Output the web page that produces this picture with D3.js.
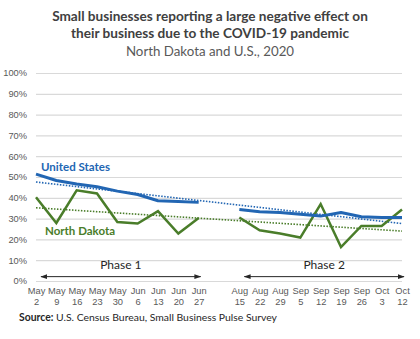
<!DOCTYPE html>
<html>
<head>
<meta charset="utf-8">
<script src="https://cdn.jsdelivr.net/npm/d3@7"></script>
<style>
  body { margin: 0; background: #fff; }
  svg { font-family: Lato, "Liberation Sans", sans-serif; }
</style>
</head>
<body>
<div id="vis"></div>
<script>
// Data (blank entry = gap between phases)
const MONTHS = ["May","May","May","May","May","Jun","Jun","Jun","Jun","",
                "Aug","Aug","Aug","Sep","Sep","Sep","Sep","Oct","Oct"];
const DAYS = ["2","9","16","23","30","6","13","20","27","",
              "15","22","29","5","12","19","26","3","12"];
const US_VALUES = [51.4, 48.3, 46.6, 45.3, 43.2, 41.6, 38.6, 38.2, 37.8, null,
                   34.4, 33.3, 32.9, 32.1, 31.2, 32.9, 30.9, 30.5, 30.5];
const ND_VALUES = [40.3, 27.9, 43.6, 42.1, 28.4, 27.6, 33.6, 22.8, 30.3, null,
                   30.5, 24.4, 22.8, 20.9, 37.0, 16.3, 26.5, 26.5, 34.4];
// trendline start / end values
const US_TREND = [47.6, 27.6];
const ND_TREND = [35.2, 24.0];
const Y_TICKS = [0, 10, 20, 30, 40, 50, 60, 70, 80, 90, 100];

const FRAME_WIDTH = 420;
const FRAME_HEIGHT = 339;
const MARGINS = {left: 36, right: 18, top: 73, bottom: 58};
const VIS_WIDTH = FRAME_WIDTH - MARGINS.left - MARGINS.right;
const VIS_HEIGHT = FRAME_HEIGHT - MARGINS.top - MARGINS.bottom;

const BLUE = "#2266b3";
const GREEN = "#4a7d2a";
const GREY = "#595959";

const FRAME = d3.select("#vis")
                .append("svg")
                  .attr("width", FRAME_WIDTH)
                  .attr("height", FRAME_HEIGHT);

// Titles
const title = FRAME.append("g").attr("text-anchor", "middle").attr("fill", "#404040");
title.append("text").attr("x", 210).attr("y", 21)
     .attr("font-size", "13.6px").attr("font-weight", "bold")
     .text("Small businesses reporting a large negative effect on");
title.append("text").attr("x", 210).attr("y", 38)
     .attr("font-size", "13.6px").attr("font-weight", "bold")
     .text("their business due to the COVID-19 pandemic");
title.append("text").attr("x", 210).attr("y", 56)
     .attr("font-size", "13.3px").attr("fill", GREY)
     .text("North Dakota and U.S., 2020");

const idx = d3.range(MONTHS.length);

const X_SCALE = d3.scalePoint()
                  .domain(idx)
                  .range([0, VIS_WIDTH]);

const Y_SCALE = d3.scaleLinear()
                  .domain([0, 100])
                  .range([VIS_HEIGHT, 0]);

const VIS = FRAME.append("g")
                 .attr("transform", "translate(" + MARGINS.left + "," + MARGINS.top + ")");

// y axis + gridlines
const yAxis = VIS.append("g")
   .call(d3.axisLeft(Y_SCALE).tickValues(Y_TICKS)
           .tickFormat((d) => d + "%").tickSize(-VIS_WIDTH).tickPadding(9));
yAxis.select(".domain").remove();
yAxis.selectAll("line").attr("stroke", "#d9d9d9").attr("stroke-width", 1.2);
yAxis.selectAll("text").attr("fill", GREY).attr("font-size", "9.3px");

// x axis labels (two lines)
const xAxis = VIS.append("g")
   .attr("transform", "translate(0," + VIS_HEIGHT + ")")
   .call(d3.axisBottom(X_SCALE).tickSize(0).tickFormat(""));
xAxis.select(".domain").remove();
xAxis.selectAll(".tick").each(function(d) {
  const t = d3.select(this).append("text")
              .attr("fill", GREY).attr("font-size", "9.3px")
              .attr("text-anchor", "middle");
  t.append("tspan").attr("x", 0).attr("y", 13).text(MONTHS[d]);
  t.append("tspan").attr("x", 0).attr("y", 24).text(DAYS[d]);
});

// trendlines
const last = idx.length - 1;
[[US_TREND, BLUE], [ND_TREND, GREEN]].forEach(([tr, c]) => {
  VIS.append("line")
     .attr("x1", X_SCALE(0)).attr("y1", Y_SCALE(tr[0]))
     .attr("x2", X_SCALE(last)).attr("y2", Y_SCALE(tr[1]))
     .attr("stroke", c).attr("stroke-width", 1.6)
     .attr("stroke-dasharray", "1.5,1.5");
});

// series lines
const line = d3.line()
               .defined((d) => d !== null)
               .x((d, i) => X_SCALE(i))
               .y((d) => Y_SCALE(d));

VIS.append("path").datum(ND_VALUES)
   .attr("d", line).attr("fill", "none")
   .attr("stroke", GREEN).attr("stroke-width", 2.5)
   .attr("stroke-linejoin", "miter");

VIS.append("path").datum(US_VALUES)
   .attr("d", line).attr("fill", "none")
   .attr("stroke", BLUE).attr("stroke-width", 3)
   .attr("stroke-linejoin", "round");

// series labels
VIS.append("text").attr("x", 5).attr("y", Y_SCALE(53))
   .attr("fill", BLUE).attr("font-size", "11.5px").attr("font-weight", "bold")
   .text("United States");
VIS.append("text").attr("x", 9).attr("y", Y_SCALE(22))
   .attr("fill", GREEN).attr("font-size", "11.5px").attr("font-weight", "bold")
   .text("North Dakota");

// phase arrows
FRAME.append("defs").append("marker")
     .attr("id", "arr").attr("viewBox", "0 0 10 10")
     .attr("refX", 9).attr("refY", 5)
     .attr("markerWidth", 7).attr("markerHeight", 7)
     .attr("orient", "auto-start-reverse")
   .append("path").attr("d", "M0,1.5L10,5L0,8.5Z").attr("fill", "#262626");

const phases = [
  {name: "Phase 1", from: 0, to: 8},
  {name: "Phase 2", from: 10, to: 18}
];
phases.forEach((p) => {
  const x1 = X_SCALE(p.from) + 5;
  const x2 = X_SCALE(p.to) + 2;
  VIS.append("line")
     .attr("x1", x1).attr("x2", x2)
     .attr("y1", Y_SCALE(2.1)).attr("y2", Y_SCALE(2.1))
     .attr("stroke", "#262626").attr("stroke-width", 1)
     .attr("marker-start", "url(#arr)").attr("marker-end", "url(#arr)");
  VIS.append("text").attr("x", (x1 + x2) / 2).attr("y", Y_SCALE(6))
     .attr("text-anchor", "middle").attr("font-size", "12px").attr("fill", "#262626")
     .text(p.name);
});

// source
const src = FRAME.append("text").attr("x", 19).attr("y", 321)
                 .attr("font-size", "10.4px").attr("fill", "#262626");
src.append("tspan").attr("font-weight", "bold").text("Source:");
src.append("tspan").text(" U.S. Census Bureau, Small Business Pulse Survey");
</script>
</body>
</html>
